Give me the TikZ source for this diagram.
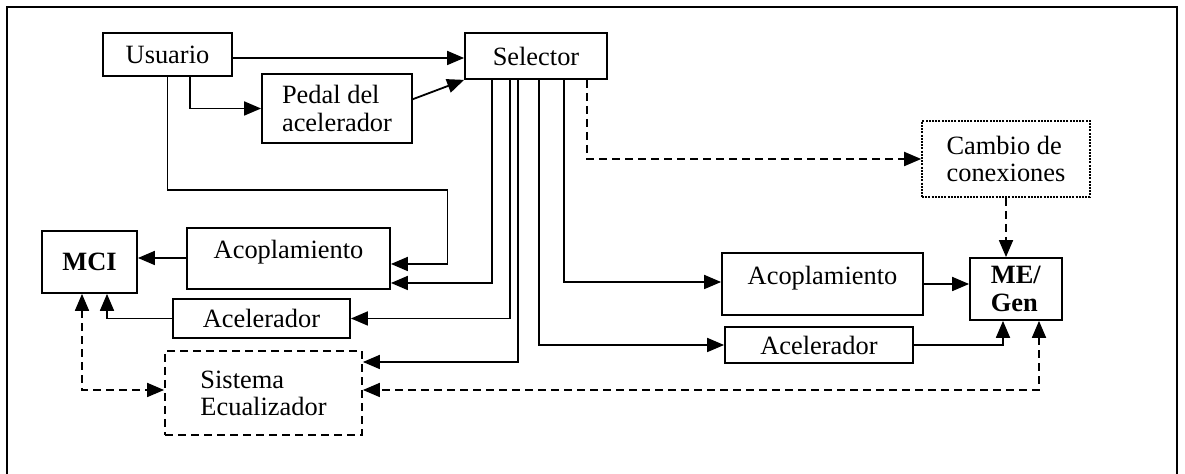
\documentclass[tikz,border=0pt]{standalone}
\usepackage{fontspec}
\setmainfont{Liberation Serif}
\usetikzlibrary{arrows.meta,calc}

\begin{document}
\begin{tikzpicture}[x=0.5pt,y=-0.5pt,>={Triangle[length=8.5pt,width=7pt]},
  font=\fontsize{13.2pt}{13.6pt}\selectfont,
  box/.style={draw,line width=0.9pt,inner sep=1pt,align=left},
  dashbox/.style={box,dash pattern=on 4pt off 2.5pt},
  dotbox/.style={box,line width=0.8pt,dash pattern=on 1pt off 0.6pt},
  link/.style={->,line width=0.9pt},
  dlink/.style={link,dash pattern=on 4pt off 2.5pt},
  lift/.style={text depth=9pt}]
  \useasboundingbox (0,0) rectangle (1185,474);
  \draw[line width=0.7pt] (7,474) -- (7,7) -- (1177,7) -- (1177,474);

  \node[box,minimum width=64.5pt,minimum height=21.5pt] (usuario) at (167.5,54.5) {Usuario};
  \node[box,minimum width=71pt,minimum height=23pt] (selector) at (536,56) {Selector};
  \node[box,minimum width=75pt,minimum height=34.5pt] (pedal) at (337,108.5) {Pedal del\\acelerador};
  \node[dotbox,minimum width=84pt,minimum height=38pt] (cambio) at (1006,159) {Cambio de\\conexiones};
  \node[box,minimum width=47.5pt,minimum height=31pt] (mci) at (89.5,262) {\bfseries MCI};
  \node[box,lift,minimum width=101.5pt,minimum height=30.5pt] (acopL) at (288.5,258.5) {Acoplamiento};
  \node[box,minimum width=88.5pt,minimum height=19.5pt] (aceL) at (261.5,318.5) {Acelerador};
  \node[dashbox,minimum width=98.5pt,minimum height=42pt] (sistema) at (263.5,393) {Sistema\\Ecualizador};
  \node[box,lift,minimum width=100.5pt,minimum height=31pt] (acopR) at (822.5,284) {Acoplamiento};
  \node[box,minimum width=94pt,minimum height=18pt] (aceR) at (819,345) {Acelerador};
  \node[box,minimum width=46pt,minimum height=31pt] (megen) at (1016,289) {\textbf{ME/}\\\textbf{Gen}};

  \draw[link] (usuario.east |- 0,58) -- (selector.west |- 0,58);
  \draw[link] ($(usuario.south)+(22.5,0)$) |- (pedal.west);
  \draw[link] (pedal.7) -- (selector.south west);
  \draw[link] (usuario.south) |- ++(280,113) |- (acopL.east |- 0,264);
  \draw[link] ($(selector.south west)+(28,0)$) |- (acopL.east |- 0,283);
  \draw[link] ($(selector.south west)+(46,0)$) |- (aceL.east);
  \draw[link] ($(selector.south west)+(54,0)$) |- (sistema.east |- 0,362);
  \draw[link] ($(selector.south west)+(75,0)$) |- (aceR.west);
  \draw[link] ($(selector.south west)+(100,0)$) |- (acopR.west |- 0,282);
  \draw[dlink] ($(selector.south west)+(123,0)$) |- (cambio.west);
  \draw[dlink] (cambio.south) -- (cambio.south |- megen.north);
  \draw[link] (acopR.east) -- (acopR.east -| megen.west);
  \draw[link] (aceR.east) -| ($(megen.south)+(-13,0)$);
  \draw[dlink,<->] ($(megen.south)+(23,0)$) |- (sistema.east |- 0,390);
  \draw[link] (acopL.west |- 0,258) -- (mci.east |- 0,258);
  \draw[link] (aceL.west) -| ($(mci.south)+(17.5,0)$);
  \draw[dlink,<->] ($(mci.south)+(-7.5,0)$) |- (sistema.west |- 0,390);
\end{tikzpicture}
\end{document}
